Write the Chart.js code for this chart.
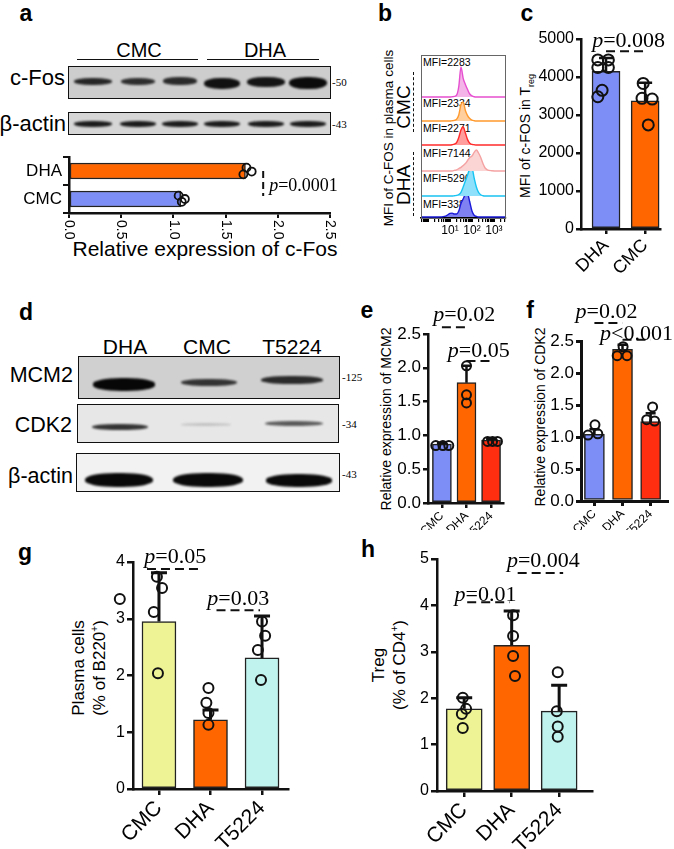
<!DOCTYPE html>
<html>
<head>
<meta charset="utf-8">
<title>c-Fos figure</title>
<script src="https://cdn.jsdelivr.net/npm/chart.js@4.4.1/dist/chart.umd.min.js"></script>
<style>
  body { margin: 0; background: #fff; }
  #fig { position: relative; width: 674px; height: 849px; overflow: hidden; font-family: "Liberation Sans", Arial, sans-serif; color: #000; }
  #fig canvas { position: absolute; }
  .t { position: absolute; white-space: nowrap; line-height: 1.15; text-align: center; }
  .lt { font-weight: bold; }
  .mw { font-family: "Liberation Serif", serif; color: #000; }
  .blot { position: absolute; box-sizing: border-box; border: 1.5px solid #111; overflow: hidden; }
  .band { position: absolute; border-radius: 45%; filter: blur(1.3px); }
  .ln { position: absolute; }
</style>
</head>
<body>
<div id="fig"></div>
<script>
// ---------- data ----------
// a: c-Fos blot quantification (horizontal bars)
const aCats = ['DHA', 'CMC'];
const aMeans = [1.69, 1.07];
const aPoints = [[1.67, 1.70, 1.75], [1.05, 1.08, 1.11]];
const aJitter = [[0.12, -0.12, 0.02], [-0.12, 0.1, 0.0]];
const aTicks = [0, 0.5, 1, 1.5, 2, 2.5];
const aP = 'p=0.0001';

// b: flow histograms (log10 fluorescence bins, % of mode)
const bBins = [-0.32, 0.4, 0.8, 1.0, 1.1, 1.2, 1.3, 1.4, 1.5, 1.6, 1.7, 1.8, 1.9, 2.0, 2.1, 2.2, 2.3, 2.4, 2.5, 2.6, 2.7, 2.9, 3.2, 3.55];
const bGroups = ['CMC', 'DHA'];
const bMfi = [2283, 2334, 2271, 7144, 5296, 3386];
const bCounts = [
  [0, 0, 0, 0, 1, 2, 6, 35, 100, 62, 42, 25, 10, 4, 1, 0, 0, 0, 0, 0, 0, 0, 0, 0],
  [0, 0, 0, 0, 1, 2, 6, 20, 55, 63, 35, 18, 8, 3, 1, 0, 0, 0, 0, 0, 0, 0, 0, 0],
  [0, 0, 0, 0, 1, 3, 8, 25, 50, 60, 40, 18, 6, 2, 1, 0, 0, 0, 0, 0, 0, 0, 0, 0],
  [0, 0, 0, 0, 0, 2, 4, 8, 12, 18, 25, 35, 45, 50, 62, 70, 60, 45, 25, 10, 4, 1, 0, 0],
  [0, 0, 0, 0, 0, 1, 2, 5, 12, 30, 50, 70, 90, 93, 60, 30, 12, 4, 1, 0, 0, 0, 0, 0],
  [0, 0, 3, 12, 13, 10, 10, 20, 45, 60, 75, 77, 50, 20, 6, 2, 0, 0, 0, 0, 0, 0, 0, 0]
];

// c: MFI of c-FOS in Treg
const cCats = ['DHA', 'CMC'];
const cMeans = [4150, 3370];
const cSd = [350, 480];
const cPoints = [[4450, 4450, 4250, 4250, 3650, 3480], [3830, 3440, 3420, 2740]];
const cJitter = [[-0.21, 0.06, -0.21, 0.06, -0.1, -0.21], [-0.05, -0.08, 0.18, 0.08]];
const cP = ['p=0.008'];

// e: MCM2
const eCats = ['CMC', 'DHA', 'T5224'];
const eMeans = [0.87, 1.78, 0.93];
const eSd = [0.02, 0.25, 0.02];
const ePoints = [[0.85, 0.85, 0.85], [2.03, 1.60, 1.48], [0.91, 0.91, 0.91]];
const eJitter = [[-0.25, 0.04, 0.28], [0, 0, 0], [-0.14, 0.06, 0.26]];
const eP = ['p=0.02', 'p=0.05'];

// f: CDK2
const fCats = ['CMC', 'DHA', 'T5224'];
const fMeans = [1.04, 2.37, 1.24];
const fSd = [0.08, 0.07, 0.13];
const fPoints = [[1.19, 1.03, 1.05], [2.41, 2.27, 2.27], [1.47, 1.27, 1.25]];
const fJitter = [[0.02, -0.23, 0.12], [0.02, -0.19, 0.16], [0.07, -0.14, 0.14]];
const fP = ['p=0.02', 'p<0.001'];

// g: plasma cells
const gCats = ['CMC', 'DHA', 'T5224'];
const gMeans = [2.95, 1.22, 2.31];
const gSd = [0.86, 0.17, 0.74];
const gPoints = [[3.74, 3.54, 3.35, 3.12, 2.04], [1.78, 1.52, 1.34, 1.13], [2.95, 2.70, 2.45, 1.92]];
const gJitter = [[-0.04, 0.06, -0.76, -0.1, -0.02], [-0.04, -0.08, -0.04, -0.04], [0, 0.06, -0.08, -0.02]];
const gP = ['p=0.05', 'p=0.03'];

// h: Treg
const hCats = ['CMC', 'DHA', 'T5224'];
const hMeans = [1.77, 3.14, 1.72];
const hSd = [0.24, 0.74, 0.56];
const hPoints = [[2.01, 1.77, 1.66, 1.36], [3.79, 3.34, 2.91, 2.48], [2.56, 1.72, 1.39, 1.17]];
const hJitter = [[-0.03, 0.04, -0.05, -0.03], [0.03, 0.03, 0.03, 0.07], [-0.03, -0.05, -0.03, -0.03]];
const hP = ['p=0.01', 'p=0.004'];

// ---------- styles ----------
const FONT = '"Liberation Sans", Arial, sans-serif';
const SERIF = '"Liberation Serif", "Times New Roman", serif';
const BLUE = '#7d8ef7', ORANGE = '#ff6600', RED = '#ff2e10', YELLOW = '#eef395', CYAN = '#c0f2ee';
const bLine = ['#e64fd0', '#ff9a2e', '#ff2b2b', '#f5a2a2', '#18c4f2', '#1a1ad8'];
const bFill = ['#f4b4e8', '#ffcf9e', '#ff9c9c', '#fbd4d4', '#8fe0fa', '#7f80f2'];

Chart.defaults.font.family = FONT;
Chart.defaults.color = '#000';
Chart.defaults.animation = false;

const fig = document.getElementById('fig');

function addCanvas(x, y, w, h) {
  const c = document.createElement('canvas');
  c.width = w; c.height = h;
  c.style.cssText = `left:${x}px;top:${y}px;width:${w}px;height:${h}px`;
  fig.appendChild(c);
  return c;
}

function label(html, x, y, size, mode, cls) {
  const d = document.createElement('div');
  d.className = 't' + (cls ? ' ' + cls : '');
  d.innerHTML = html;
  const tr = {
    c: 'translate(-50%,-50%)',
    r: 'translate(-100%,-50%)',
    l: 'translate(0,-50%)',
    v: 'translate(-50%,-50%) rotate(-90deg)'
  }[mode || 'c'];
  d.style.cssText = `left:${x}px;top:${y}px;font-size:${size}px;transform:${tr}`;
  fig.appendChild(d);
}

function line(x, y, w, h, css) {
  const d = document.createElement('div');
  d.className = 'ln';
  d.style.cssText = `left:${x}px;top:${y}px;width:${w}px;height:${h}px;${css}`;
  fig.appendChild(d);
}

function blot(x, y, w, h, bg, bands) {
  const d = document.createElement('div');
  d.className = 'blot';
  d.style.cssText = `left:${x}px;top:${y}px;width:${w}px;height:${h}px;background:${bg}`;
  bands.forEach(b => {
    const s = document.createElement('div');
    s.className = 'band';
    s.style.cssText = `left:${b[0] - x - b[2] / 2}px;top:${b[1] - y - b[3] / 2}px;width:${b[2]}px;height:${b[3]}px;background:${b[4]}`;
    d.appendChild(s);
  });
  fig.appendChild(d);
}

function pText(ctx, s, x, base, size, left) {
  const rest = s.slice(1);
  ctx.save();
  ctx.fillStyle = '#000';
  ctx.textBaseline = 'alphabetic';
  ctx.textAlign = 'left';
  ctx.font = `italic ${size}px ${SERIF}`;
  const w1 = ctx.measureText('p').width;
  ctx.font = `${size}px ${SERIF}`;
  const w2 = ctx.measureText(rest).width;
  const x0 = left ? x : x - (w1 + w2) / 2;
  ctx.font = `italic ${size}px ${SERIF}`;
  ctx.fillText('p', x0, base);
  ctx.font = `${size}px ${SERIF}`;
  ctx.fillText(rest, x0 + w1, base);
  ctx.restore();
}

function dashLine(ctx, x1, y1, x2, y2, dash) {
  ctx.save();
  ctx.strokeStyle = '#111';
  ctx.lineWidth = 2;
  ctx.setLineDash(dash || [9, 5]);
  ctx.beginPath(); ctx.moveTo(x1, y1); ctx.lineTo(x2, y2); ctx.stroke();
  ctx.restore();
}

// generic vertical bar + dots + SD panel
function barPanel(p) {
  const [bx, by, bw, bh] = p.box;
  const [al, at, ar, ab] = p.area;
  const cv = addCanvas(bx, by, bw, bh);
  const pts = [];
  p.points.forEach((grp, i) => grp.forEach((v, k) => pts.push({ x: i + p.jitter[i][k], y: v })));
  const axisGrid = { drawOnChartArea: false, drawTicks: true, tickLength: p.tick, color: '#111', lineWidth: p.axisW, offset: false };
  const axisBorder = { color: '#111', width: p.axisW };

  const deco = {
    id: 'deco',
    afterDatasetDraw(chart, args) {
      if (args.index !== 1) return;
      const { ctx, scales: { x, y } } = chart;
      ctx.save();
      ctx.strokeStyle = '#111';
      ctx.lineWidth = p.errW;
      p.means.forEach((m, i) => {
        const px = x.getPixelForValue(i);
        const y0 = y.getPixelForValue(m), y1 = y.getPixelForValue(m + p.sd[i]);
        ctx.beginPath();
        ctx.moveTo(px, y0); ctx.lineTo(px, y1);
        ctx.moveTo(px - p.cap, y1); ctx.lineTo(px + p.cap, y1);
        ctx.stroke();
      });
      ctx.restore();
    },
    afterDraw(chart) {
      const { ctx, chartArea: a, scales: { x, y } } = chart;
      // points that fall left/right of the plot area are skipped by Chart.js
      ctx.save();
      ctx.strokeStyle = '#111';
      ctx.lineWidth = 2;
      pts.forEach(pt => {
        const px = x.getPixelForValue(pt.x), py = y.getPixelForValue(pt.y);
        if (px < a.left || px > a.right) {
          ctx.beginPath(); ctx.arc(px, py, p.r, 0, Math.PI * 2); ctx.stroke();
        }
      });
      ctx.restore();
      p.brackets.forEach(b => {
        const x1 = x.getPixelForValue(b.from) + (b.dx1 || 0);
        const x2 = x.getPixelForValue(b.to) + (b.dx2 || 0);
        const ly = y.getPixelForValue(b.level);
        dashLine(ctx, x1, ly, x2, ly);
        pText(ctx, b.text, (x1 + x2) / 2 + (b.tdx || 0), ly + (b.tdy !== undefined ? b.tdy : -4), 22);
      });
    }
  };

  new Chart(cv, {
    type: 'bar',
    data: {
      datasets: [
        {
          type: 'scatter', data: pts, order: 0, clip: false,
          pointRadius: p.r, pointBorderWidth: 2, pointBorderColor: '#111',
          pointBackgroundColor: 'rgba(0,0,0,0)'
        },
        {
          type: 'bar', data: p.means.map((m, i) => ({ x: i, y: m })), order: 1,
          backgroundColor: p.colors, borderColor: '#222', borderWidth: 1.5,
          barThickness: p.barW, borderSkipped: false
        }
      ]
    },
    options: {
      responsive: false,
      layout: { padding: { top: at - by, right: bx + bw - ar, left: 0, bottom: 0 } },
      plugins: { legend: { display: false }, tooltip: { enabled: false } },
      scales: {
        x: {
          type: 'linear', min: p.xr[0], max: p.xr[1], offset: false,
          afterBuildTicks: s => { s.ticks = p.cats.map((c, i) => ({ value: i })); },
          afterFit: s => { s.height = by + bh - ab; },
          ticks: {
            autoSkip: false, minRotation: 45, maxRotation: 45, padding: 1,
            font: { size: p.xFont }, color: '#000',
            callback: v => p.cats[v]
          },
          grid: axisGrid, border: axisBorder
        },
        y: {
          min: p.y[0], max: p.y[1], offset: false,
          afterFit: s => { s.width = al - bx; },
          ticks: {
            stepSize: p.y[2], padding: 2, font: { size: p.yFont }, color: '#000',
            callback: v => v.toFixed(p.y[3])
          },
          grid: axisGrid, border: axisBorder
        }
      }
    },
    plugins: [deco]
  });
}

// ---------- panel letters ----------
[['a', 26, 13], ['b', 385, 13], ['c', 527, 13], ['d', 26, 312], ['e', 367, 310], ['f', 530, 310], ['g', 25, 552], ['h', 368, 549]]
  .forEach(([t, x, y]) => label(t, x, y, 23, 'c', 'lt'));

// ---------- panel a ----------
label('CMC', 139, 50, 20);
label('DHA', 265, 50, 20);
line(77, 59, 121, 0, 'border-top:1.5px solid #111');
line(207, 59, 112, 0, 'border-top:1.5px solid #111');
blot(68, 66, 263, 33, '#cdcdcd', [
  [92, 80, 38, 7, '#262626'], [137, 80, 34, 7, '#2e2e2e'], [179, 80, 34, 8, '#2a2a2a'],
  [221, 82, 36, 11, '#111'], [265, 81, 38, 10, '#151515'], [307, 82, 38, 12, '#0c0c0c']
]);
blot(68, 112, 263, 23, '#d6d6d6', [
  [92, 123, 38, 6, '#1c1c1c'], [137, 123, 36, 6, '#1c1c1c'], [179, 123, 36, 6, '#1c1c1c'],
  [221, 123, 36, 6, '#1c1c1c'], [265, 123, 36, 6, '#1c1c1c'], [307, 123, 36, 6, '#1c1c1c']
]);
label('c-Fos', 65, 78, 22, 'r');
label('β-actin', 66, 124, 22, 'r');
label('-50', 332, 82, 11, 'l', 'mw');
label('-43', 332, 124, 11, 'l', 'mw');
label('Relative expression of c-Fos', 205, 249, 21);

(function panelA() {
  const cv = addCanvas(0, 145, 360, 120);
  const pts = [];
  aPoints.forEach((grp, i) => grp.forEach((v, k) => pts.push({ x: v, y: i + aJitter[i][k] })));
  const grid = { drawOnChartArea: false, drawTicks: true, tickLength: 5, color: '#111', lineWidth: 2 };
  const border = { color: '#111', width: 2.5 };
  const deco = {
    id: 'decoA',
    afterDraw(chart) {
      const { ctx, scales: { x, y } } = chart;
      ctx.save();
      ctx.fillStyle = '#000';
      ctx.font = `14px ${FONT}`;
      ctx.textAlign = 'left';
      ctx.textBaseline = 'middle';
      x.ticks.forEach(t => {
        ctx.save();
        ctx.translate(x.getPixelForValue(t.value), x.top + 7);
        ctx.rotate(Math.PI / 2);
        ctx.fillText(t.value.toFixed(1), 0, 0);
        ctx.restore();
      });
      ctx.restore();
      const bx = x.getPixelForValue(1.86);
      dashLine(ctx, bx, y.getPixelForValue(0), bx, y.getPixelForValue(1) - 3, [7, 4]);
      pText(ctx, aP, bx + 6, y.getPixelForValue(0.5) + 6, 18, true);
    }
  };
  new Chart(cv, {
    type: 'bar',
    data: {
      datasets: [
        {
          type: 'scatter', data: pts, order: 0, clip: false,
          pointRadius: 4, pointBorderWidth: 1.8, pointBorderColor: '#111',
          pointBackgroundColor: 'rgba(0,0,0,0)'
        },
        {
          type: 'bar', data: aMeans.map((m, i) => ({ x: m, y: i })), order: 1,
          backgroundColor: [ORANGE, BLUE], borderColor: '#222', borderWidth: 1.5,
          barThickness: 16, borderSkipped: false
        }
      ]
    },
    options: {
      indexAxis: 'y',
      responsive: false,
      layout: { padding: { top: 12, right: 30, left: 0, bottom: 0 } },
      plugins: { legend: { display: false }, tooltip: { enabled: false } },
      scales: {
        x: {
          type: 'linear', min: 0, max: 2.5, offset: false,
          afterBuildTicks: s => { s.ticks = aTicks.map(v => ({ value: v })); },
          afterFit: s => { s.height = 52; },
          ticks: { display: false },
          grid, border
        },
        y: {
          type: 'linear', min: -0.5, max: 1.5, reverse: true, offset: false,
          afterBuildTicks: s => { s.ticks = aCats.map((c, i) => ({ value: i })); },
          afterFit: s => { s.width = 69; },
          ticks: { autoSkip: false, padding: 1, font: { size: 17 }, color: '#000', callback: v => aCats[v] },
          grid: { ...grid, tickLength: 6 }, border
        }
      }
    },
    plugins: [deco]
  });
})();

// ---------- panel b ----------
label('MFI of C-FOS in plasma cells', 389, 138, 13.5, 'v');
label(bGroups[0], 404, 107, 19, 'v');
label(bGroups[1], 404, 185, 19, 'v');
line(413, 72, 0, 60, 'border-left:1.5px dashed #111');
line(413, 152, 0, 64, 'border-left:1.5px dashed #111');
[62, 103, 128, 153, 178, 204].forEach((y, i) => label('MFI=' + bMfi[i], 423, y, 10.5, 'l'));

(function panelB() {
  const cv = addCanvas(415, 50, 100, 195);
  const rowBase = [121, 97, 73, 47, 22, 1];
  const minor = [];
  for (let d = -1; d <= 3; d++) {
    for (let k = 1; k <= 9; k++) {
      const v = d + Math.log10(k);
      if (v >= -0.32 && v <= 3.55) minor.push(v);
    }
  }
  const sup = ['⁰', '¹', '²', '³'];
  const datasets = bCounts.map((cnt, r) => ({
    data: bBins.map((x, k) => ({ x, y: rowBase[r] + cnt[k] * 0.3 })),
    borderColor: bLine[r], backgroundColor: bFill[r], borderWidth: 1.4,
    fill: { value: rowBase[r] }, pointRadius: 0, cubicInterpolationMode: 'monotone'
  }));
  const frame = {
    id: 'frame',
    afterDraw(chart) {
      const { ctx, chartArea: a } = chart;
      ctx.save();
      ctx.strokeStyle = '#666';
      ctx.lineWidth = 1;
      ctx.strokeRect(a.left + 0.5, a.top + 0.5, a.width - 1, a.height);
      ctx.restore();
    }
  };
  new Chart(cv, {
    type: 'line',
    data: { datasets },
    options: {
      responsive: false,
      layout: { padding: { left: 6, top: 5, right: 9, bottom: 0 } },
      plugins: { legend: { display: false }, tooltip: { enabled: false } },
      scales: {
        x: {
          type: 'linear', min: -0.32, max: 3.55,
          afterBuildTicks: s => { s.ticks = minor.map(v => ({ value: v })); },
          afterFit: s => { s.height = 27; },
          ticks: {
            autoSkip: false, maxRotation: 0, padding: 1, font: { size: 12 }, color: '#000',
            callback: v => (Number.isInteger(v) && v >= 1 ? '10' + sup[v] : '')
          },
          grid: {
            drawOnChartArea: false, tickLength: 4, color: '#000',
            lineWidth: c => (c.tick && Number.isInteger(c.tick.value) ? 2 : 1.2)
          },
          border: { color: '#000', width: 1.5 }
        },
        y: { display: false, min: 0, max: 163 }
      }
    },
    plugins: [frame]
  });
})();

// ---------- panel c ----------
label('MFI of c-FOS in T<sub style="font-size:9px">reg</sub>', 527, 136, 14, 'v');
barPanel({
  box: [510, 20, 164, 270], area: [581, 39, 660, 229], xr: [-0.64, 1.38],
  y: [0, 5000, 1000, 0], yFont: 16, xFont: 18, tick: 5, axisW: 2.5,
  cats: cCats, means: cMeans, sd: cSd, points: cPoints, jitter: cJitter,
  colors: [BLUE, ORANGE], barW: 28, r: 5.5, cap: 7, errW: 2.5,
  brackets: [{ from: 0, to: 1, level: 4680, text: cP[0], tdx: 3, tdy: -4 }]
});

// ---------- panel d ----------
label('DHA', 125, 347, 21);
label('CMC', 207, 347, 21);
label('T5224', 292, 347, 21);
blot(78, 356, 262, 43, '#d0d0d0', [
  [123, 383, 62, 13, '#070707'], [208, 381, 56, 7, '#333'], [291, 379, 62, 8, '#2a2a2a']
]);
blot(77, 404, 262, 39, '#e7e7e7', [
  [119, 426, 56, 6, '#333'], [205, 423, 50, 3, '#c2c2c2'], [293, 422, 58, 5, '#5a5a5a']
]);
blot(76, 453, 264, 39, '#f2f2f2', [
  [118, 479, 68, 14, '#0a0a0a'], [207, 479, 70, 14, '#0a0a0a'], [298, 479, 66, 13, '#0a0a0a']
]);
label('MCM2', 73, 375, 21.5, 'r');
label('CDK2', 72, 425, 21.5, 'r');
label('β-actin', 73, 476, 21.5, 'r');
label('-125', 342, 377, 11, 'l', 'mw');
label('-34', 342, 424, 11, 'l', 'mw');
label('-43', 342, 474, 11, 'l', 'mw');

// ---------- panel e ----------
label('Relative expression of MCM2', 386, 419, 14, 'v');
barPanel({
  box: [360, 290, 150, 240], area: [428, 334, 504, 503], xr: [-0.566, 2.506],
  y: [0, 2.5, 0.5, 1], yFont: 17, xFont: 12, tick: 5, axisW: 2.5,
  cats: eCats, means: eMeans, sd: eSd, points: ePoints, jitter: eJitter,
  colors: [BLUE, ORANGE, RED], barW: 19, r: 4.5, cap: 5, errW: 2.5,
  brackets: [
    { from: 0, to: 1, level: 2.6, text: eP[0], tdx: 10, tdy: -6 },
    { from: 1, to: 2, level: 2.1, text: eP[1], tdx: 0, tdy: -4 }
  ]
});

// ---------- panel f ----------
label('Relative expression of CDK2', 540, 417, 14, 'v');
barPanel({
  box: [510, 290, 164, 240], area: [581, 341, 668, 501], xr: [-0.477, 2.6],
  y: [0, 2.5, 0.5, 1], yFont: 17, xFont: 12, tick: 5, axisW: 3,
  cats: fCats, means: fMeans, sd: fSd, points: fPoints, jitter: fJitter,
  colors: [BLUE, ORANGE, RED], barW: 20, r: 4.5, cap: 5, errW: 2.5,
  brackets: [
    { from: 0, to: 1, level: 2.78, text: fP[0], tdx: -2, tdy: -5 },
    { from: 1, to: 2, level: 2.52, text: fP[1], tdx: 0, tdy: 0 }
  ]
});

// ---------- panel g ----------
label('Plasma cells<br>(% of B220<sup style="font-size:10px">+</sup>)', 89, 668, 17, 'v');
barPanel({
  box: [40, 545, 260, 304], area: [133, 562, 288, 789], xr: [-0.504, 2.504],
  y: [0, 4, 1, 0], yFont: 16, xFont: 21, tick: 6, axisW: 2.5,
  cats: gCats, means: gMeans, sd: gSd, points: gPoints, jitter: gJitter,
  colors: [YELLOW, ORANGE, CYAN], barW: 34, r: 5, cap: 8, errW: 3,
  brackets: [
    { from: 0, to: 1, level: 3.877, text: gP[0], dx1: -12, dx2: -11, tdx: 2, tdy: -6 },
    { from: 1, to: 2, level: 3.15, text: gP[1], dx1: 6, dx2: -2, tdx: 0, tdy: -5 }
  ]
});

// ---------- panel h ----------
label('Treg<br>(% of CD4<sup style="font-size:10px">+</sup>)', 389, 665, 17, 'v');
barPanel({
  box: [340, 545, 334, 304], area: [437, 559, 592, 791], xr: [-0.573, 2.692],
  y: [0, 5, 1, 0], yFont: 16, xFont: 21, tick: 6, axisW: 2.5,
  cats: hCats, means: hMeans, sd: hSd, points: hPoints, jitter: hJitter,
  colors: [YELLOW, ORANGE, CYAN], barW: 36, r: 5, cap: 8, errW: 3,
  brackets: [
    { from: 0, to: 1, level: 4.07, text: hP[0], dx1: 3, dx2: -2, tdx: -3, tdy: -1 },
    { from: 1, to: 2, level: 4.70, text: hP[1], dx1: 6, dx2: 4, tdx: 3, tdy: -6 }
  ]
});
</script>
</body>
</html>
